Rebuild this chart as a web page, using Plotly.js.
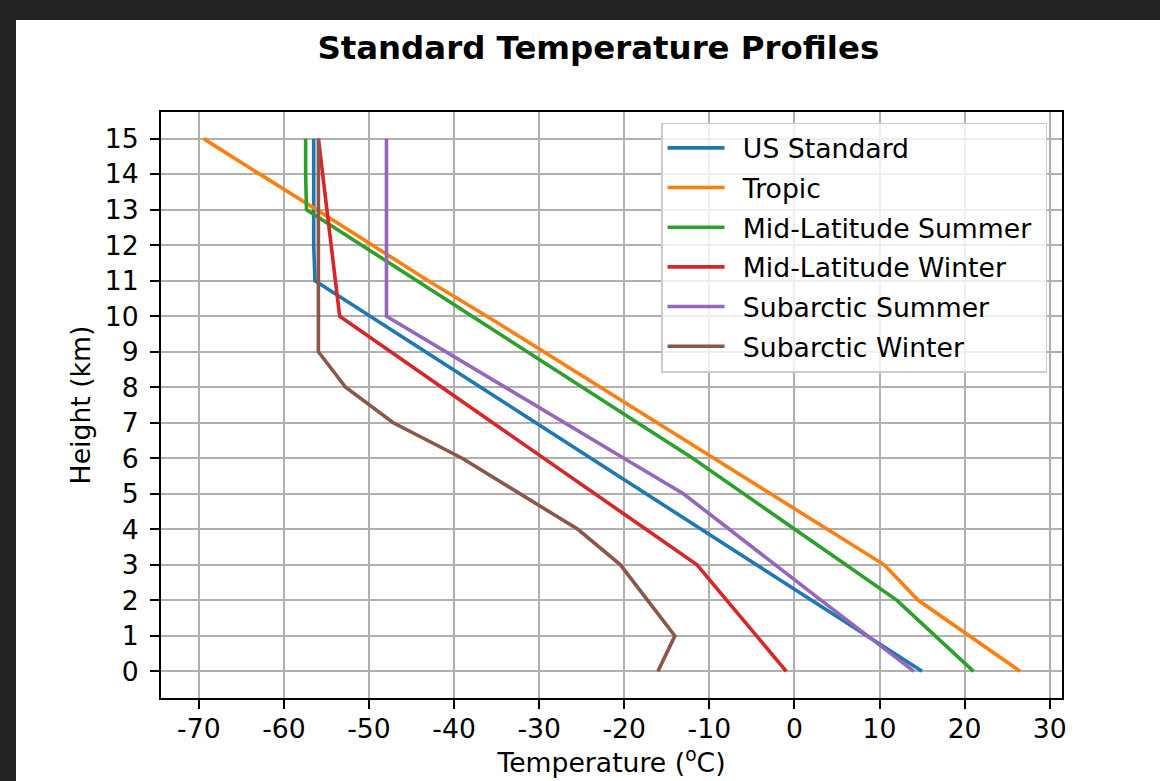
<!DOCTYPE html>
<html>
<head>
<meta charset="utf-8">
<script src="https://cdn.plot.ly/plotly-3.0.1.min.js"></script>
<style>
  html, body { margin: 0; padding: 0; background: #222222; width: 1160px; height: 781px; overflow: hidden; }
  #chart { position: absolute; left: 16px; top: 20px; width: 1144px; height: 761px; background: #ffffff; }
</style>
</head>
<body>
<div id="chart"></div>
<script>
// Heights (km)
const heights = [0, 1, 2, 3, 4, 5, 6, 7, 8, 9, 10, 11, 12, 13, 14, 15];

// Temperatures (°C) per profile
const usStandard = [15.0, 8.5, 2.0, -4.5, -11.0, -17.5, -24.0, -30.5, -37.0, -43.5, -50.0, -56.35, -56.5, -56.5, -56.5, -56.5];
const tropic = [26.55, 20.55, 14.55, 10.55, 3.85, -2.85, -9.55, -16.15, -22.85, -29.55, -36.15, -43.05, -49.55, -56.15, -62.85, -69.45];
const midLatSummer = [21.05, 16.55, 12.05, 6.05, 0.05, -5.95, -11.95, -18.45, -24.95, -31.45, -37.85, -44.35, -50.85, -57.35, -57.45, -57.45];
const midLatWinter = [-0.95, -4.45, -7.95, -11.45, -17.45, -23.45, -29.45, -35.45, -41.45, -47.45, -53.45, -53.95, -54.45, -54.95, -55.45, -55.95];
const subarcticSummer = [14.05, 8.55, 3.15, -2.25, -7.65, -13.05, -20.05, -27.05, -33.95, -40.95, -47.95, -47.95, -47.95, -47.95, -47.95, -47.95];
const subarcticWinter = [-16.05, -14.05, -17.25, -20.45, -25.45, -32.25, -39.05, -47.15, -52.75, -55.95, -55.95, -55.95, -55.95, -55.95, -55.95, -55.95];

const seriesNames = ["US Standard", "Tropic", "Mid-Latitude Summer", "Mid-Latitude Winter", "Subarctic Summer", "Subarctic Winter"];
const seriesValues = [usStandard, tropic, midLatSummer, midLatWinter, subarcticSummer, subarcticWinter];
const colors = ["#1f77b4", "#ff7f0e", "#2ca02c", "#d62728", "#9467bd", "#8c564b"];

const xTicks = [-70, -60, -50, -40, -30, -20, -10, 0, 10, 20, 30];
const yTicks = heights;

const FS = 26.67;
const FONT = "DejaVu Sans, Liberation Sans, sans-serif";

const traces = seriesNames.map((name, i) => ({
  type: "scatter",
  mode: "lines",
  name: "\u2002" + name + "\u00a0",
  x: seriesValues[i],
  y: heights,
  legendgroup: "g" + i,
  line: { color: colors[i], width: 3.6 }
}));

const axisCommon = {
  showgrid: true,
  gridcolor: "#b0b0b0",
  gridwidth: 2,
  showline: true,
  linecolor: "#000000",
  linewidth: 2,
  mirror: true,
  zeroline: false,
  ticks: "outside",
  ticklen: 9,
  tickwidth: 2,
  tickcolor: "#000000",
  tickfont: { family: FONT, size: FS, color: "#000000" }
};

const layout = {
  width: 1144,
  height: 761,
  paper_bgcolor: "#ffffff",
  plot_bgcolor: "#ffffff",
  margin: { l: 145, r: 98, t: 92, b: 83 },
  font: { family: FONT, size: FS, color: "#000000" },
  title: {
    text: "<b>Standard Temperature Profiles</b>",
    font: { family: FONT, size: 32.4, color: "#000000" },
    x: 0.509,
    xanchor: "center",
    y: 0.963,
    yanchor: "middle"
  },
  xaxis: Object.assign({}, axisCommon, {
    range: [-74.45, 31.45],
    tickmode: "array",
    tickvals: xTicks,
    ticktext: xTicks.map(String),
    ticklabelstandoff: -3,
    title: { text: "Temperature (<sup>o</sup>C)", font: { family: FONT, size: FS, color: "#000000" }, standoff: 10 }
  }),
  yaxis: Object.assign({}, axisCommon, {
    range: [-0.75, 15.75],
    tickmode: "array",
    tickvals: yTicks,
    ticktext: yTicks.map(String),
    ticklabelstandoff: 6,
    title: { text: "Height (km)", font: { family: FONT, size: FS, color: "#000000" }, standoff: 6 }
  }),
  legend: {
    x: 0.9834,
    xanchor: "right",
    y: 0.982,
    yanchor: "top",
    bgcolor: "rgba(255,255,255,0.8)",
    bordercolor: "#cccccc",
    borderwidth: 1.5,
    font: { family: FONT, size: FS, color: "#000000" },
    traceorder: "grouped",
    tracegroupgap: 2,
    itemwidth: 57
  },
  showlegend: true
};

Plotly.newPlot("chart", traces, layout, { displayModeBar: false, staticPlot: true });
</script>
</body>
</html>
